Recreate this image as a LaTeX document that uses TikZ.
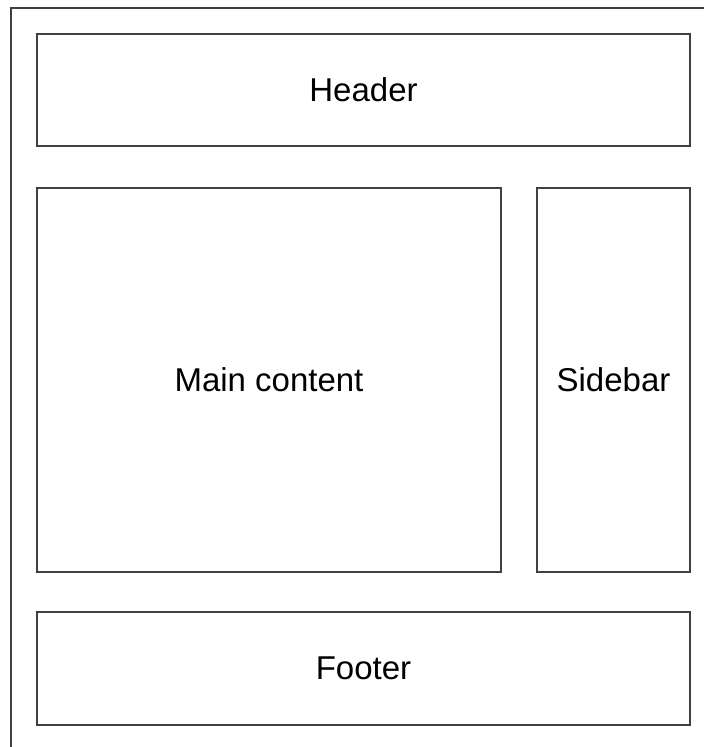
\documentclass[tikz,border=0pt]{standalone}
\usepackage{fontspec}
\setmainfont{Liberation Sans}
\usepackage{tikz}
\usetikzlibrary{positioning}

\begin{document}
\begin{tikzpicture}[
    x=1pt, y=-1pt,
    region/.style={rectangle, draw=black!75, line width=1.6pt, fill=white, inner sep=0pt, font=\fontsize{33}{40}\selectfont},
    frame/.style={rectangle, draw=black!75, line width=1.6pt, inner sep=0pt}
]
    % Page area
    \path[use as bounding box, clip] (0,0) rectangle (704,747);
    \fill[white] (0,0) rectangle (704,747);
    \node[frame, minimum width=709pt, minimum height=752pt] (page) at (365.5,384) {};

    % Header
    \node[region, minimum width=653pt, minimum height=112pt] (header) at (363.5,90) {Header};

    % Main content and sidebar
    \node[region, minimum width=464pt, minimum height=384pt] (main) at (269,380) {Main content};
    \node[region, minimum width=153pt, minimum height=384pt] (sidebar) at (613.5,380) {Sidebar};

    % Footer
    \node[region, minimum width=653pt, minimum height=113pt] (footer) at (363.5,668.5) {Footer};
\end{tikzpicture}
\end{document}
